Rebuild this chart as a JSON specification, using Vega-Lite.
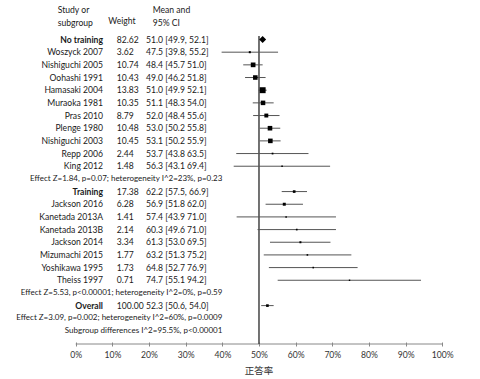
{
  "$schema": "https://vega.github.io/schema/vega-lite/v6.json",
  "width": 480,
  "height": 344,
  "padding": 0,
  "autosize": {"type": "pad"},
  "config": {"view": {"stroke": null}, "font": "Lato", "text": {"font": "Lato", "fontSize": 8.6, "color": "#1a1a1a"}},
  "data": {
    "values": [
      {"row": 0, "label": "No training", "kind": "subgroup", "weight": 82.62, "ci": "51.0 [49.9, 52.1]", "est": 51.0, "lo": 49.9, "hi": 52.1},
      {"row": 1, "label": "Woszyck 2007", "kind": "study", "weight": 3.62, "ci": "47.5 [39.8, 55.2]", "est": 47.5, "lo": 39.8, "hi": 55.2},
      {"row": 2, "label": "Nishiguchi 2005", "kind": "study", "weight": 10.74, "ci": "48.4 [45.7 51.0]", "est": 48.4, "lo": 45.7, "hi": 51.0},
      {"row": 3, "label": "Oohashi 1991", "kind": "study", "weight": 10.43, "ci": "49.0 [46.2 51.8]", "est": 49.0, "lo": 46.2, "hi": 51.8},
      {"row": 4, "label": "Hamasaki 2004", "kind": "study", "weight": 13.83, "ci": "51.0 [49.9 52.1]", "est": 51.0, "lo": 49.9, "hi": 52.1},
      {"row": 5, "label": "Muraoka 1981", "kind": "study", "weight": 10.35, "ci": "51.1 [48.3 54.0]", "est": 51.1, "lo": 48.3, "hi": 54.0},
      {"row": 6, "label": "Pras 2010", "kind": "study", "weight": 8.79, "ci": "52.0 [48.4 55.6]", "est": 52.0, "lo": 48.4, "hi": 55.6},
      {"row": 7, "label": "Plenge 1980", "kind": "study", "weight": 10.48, "ci": "53.0 [50.2 55.8]", "est": 53.0, "lo": 50.2, "hi": 55.8},
      {"row": 8, "label": "Nishiguchi 2003", "kind": "study", "weight": 10.45, "ci": "53.1 [50.2 55.9]", "est": 53.1, "lo": 50.2, "hi": 55.9},
      {"row": 9, "label": "Repp 2006", "kind": "study", "weight": 2.44, "ci": "53.7 [43.8 63.5]", "est": 53.7, "lo": 43.8, "hi": 63.5},
      {"row": 10, "label": "King 2012", "kind": "study", "weight": 1.48, "ci": "56.3 [43.1 69.4]", "est": 56.3, "lo": 43.1, "hi": 69.4},
      {"row": 11, "label": "Effect Z=1.84, p=0.07; heterogeneity I^2=23%, p=0.23", "kind": "note"},
      {"row": 12, "label": "Training", "kind": "pooled", "weight": 17.38, "ci": "62.2 [57.5, 66.9]", "est": 59.6, "lo": 56.2, "hi": 63.1},
      {"row": 13, "label": "Jackson 2016", "kind": "study", "weight": 6.28, "ci": "56.9 [51.8 62.0]", "est": 56.9, "lo": 51.8, "hi": 62.0},
      {"row": 14, "label": "Kanetada 2013A", "kind": "study", "weight": 1.41, "ci": "57.4 [43.9 71.0]", "est": 57.4, "lo": 43.9, "hi": 71.0},
      {"row": 15, "label": "Kanetada 2013B", "kind": "study", "weight": 2.14, "ci": "60.3 [49.6 71.0]", "est": 60.3, "lo": 49.6, "hi": 71.0},
      {"row": 16, "label": "Jackson 2014", "kind": "study", "weight": 3.34, "ci": "61.3 [53.0 69.5]", "est": 61.3, "lo": 53.0, "hi": 69.5},
      {"row": 17, "label": "Mizumachi 2015", "kind": "study", "weight": 1.77, "ci": "63.2 [51.3 75.2]", "est": 63.2, "lo": 51.3, "hi": 75.2},
      {"row": 18, "label": "Yoshikawa 1995", "kind": "study", "weight": 1.73, "ci": "64.8 [52.7 76.9]", "est": 64.8, "lo": 52.7, "hi": 76.9},
      {"row": 19, "label": "Theiss 1997", "kind": "study", "weight": 0.71, "ci": "74.7 [55.1 94.2]", "est": 74.7, "lo": 55.1, "hi": 94.2},
      {"row": 20, "label": "Effect Z=5.53, p<0.00001; heterogeneity I^2=0%, p=0.59", "kind": "note"},
      {"row": 21, "label": "Overall", "kind": "pooled", "weight": 100.0, "ci": "52.3 [50.6, 54.0]", "est": 52.3, "lo": 50.6, "hi": 54.0},
      {"row": 22, "label": "Effect Z=3.09, p=0.002; heterogeneity I^2=60%, p=0.0009", "kind": "note"},
      {"row": 23, "label": "Subgroup differences I^2=95.5%, p<0.00001", "kind": "note"}
    ]
  },
  "layer": [
    {
      "data": {"values": [{}]},
      "mark": {"type": "rule", "color": "#888888", "strokeWidth": 1},
      "encoding": {
        "x": {"datum": 0, "type": "quantitative", "scale": {"domain": [-20.65, 110.29], "nice": false, "zero": false},
          "axis": {"values": [0,5,10,15,20,25,30,35,40,45,50,55,60,65,70,75,80,85,90,95,100],
            "labelExpr": "datum.value % 10 === 0 ? datum.value + '%' : ''",
            "domain": false, "grid": false, "offset": -2, "tickSize": 4, "tickColor": "#888888", "tickWidth": 1,
            "labelFont": "Lato", "labelFontSize": 8.6, "labelColor": "#333333", "labelPadding": 4,
            "title": "正答率", "titleFont": "Noto Sans CJK JP", "titleFontSize": 9.5, "titleFontWeight": "normal",
            "titleColor": "#333333", "titleX": 258.5, "titleY": 28, "titleBaseline": "middle"}},
        "x2": {"datum": 100},
        "y": {"datum": 24.03, "type": "quantitative", "scale": {"domain": [-3.118, 24.03], "reverse": true, "nice": false, "zero": false}, "axis": null}
      }
    },
    {
      "data": {"values": [{}]},
      "mark": {"type": "rule", "color": "#444444", "strokeWidth": 1.5},
      "encoding": {
        "x": {"datum": 50, "type": "quantitative"},
        "y": {"datum": -0.28, "type": "quantitative"},
        "y2": {"datum": 24.03}
      }
    },
    {
      "transform": [{"filter": "datum.kind === 'study' || datum.kind === 'pooled'"}],
      "mark": {"type": "rule", "color": "#555555", "strokeWidth": 1},
      "encoding": {
        "x": {"field": "lo", "type": "quantitative"},
        "x2": {"field": "hi"},
        "y": {"field": "row", "type": "quantitative"}
      }
    },
    {
      "transform": [{"filter": "datum.kind === 'study'"}],
      "mark": {"type": "point", "shape": "square", "filled": true, "color": "#000000", "opacity": 1},
      "encoding": {
        "x": {"field": "est", "type": "quantitative"},
        "y": {"field": "row", "type": "quantitative"},
        "size": {"field": "weight", "type": "quantitative", "scale": {"type": "pow", "exponent": 2, "domain": [0, 14], "range": [2, 36]}, "legend": null}
      }
    },
    {
      "transform": [{"filter": "datum.kind === 'pooled'"}],
      "mark": {"type": "point", "shape": "square", "filled": true, "color": "#000000", "opacity": 1, "size": 7},
      "encoding": {
        "x": {"field": "est", "type": "quantitative"},
        "y": {"field": "row", "type": "quantitative"}
      }
    },
    {
      "transform": [{"filter": "datum.kind === 'subgroup'"}],
      "mark": {"type": "point", "shape": "diamond", "filled": true, "color": "#000000", "opacity": 1, "size": 49},
      "encoding": {
        "x": {"field": "est", "type": "quantitative"},
        "y": {"field": "row", "type": "quantitative"}
      }
    },
    {
      "transform": [{"filter": "datum.kind === 'study'"}],
      "mark": {"type": "text", "align": "right", "baseline": "middle"},
      "encoding": {
        "x": {"datum": 7.45, "type": "quantitative"},
        "y": {"field": "row", "type": "quantitative"},
        "text": {"field": "label"}
      }
    },
    {
      "transform": [{"filter": "datum.kind === 'subgroup' || datum.kind === 'pooled'"}],
      "mark": {"type": "text", "align": "right", "baseline": "middle", "fontWeight": "bold"},
      "encoding": {
        "x": {"datum": 7.45, "type": "quantitative"},
        "y": {"field": "row", "type": "quantitative"},
        "text": {"field": "label"}
      }
    },
    {
      "transform": [{"filter": "datum.kind !== 'note'"}],
      "mark": {"type": "text", "align": "left", "baseline": "middle"},
      "encoding": {
        "x": {"datum": 11.2, "type": "quantitative"},
        "y": {"field": "row", "type": "quantitative"},
        "text": {"field": "weight", "format": ".2f"}
      }
    },
    {
      "transform": [{"filter": "datum.kind !== 'note'"}],
      "mark": {"type": "text", "align": "left", "baseline": "middle"},
      "encoding": {
        "x": {"datum": 19.2, "type": "quantitative"},
        "y": {"field": "row", "type": "quantitative"},
        "text": {"field": "ci"}
      }
    },
    {
      "transform": [{"filter": "datum.kind === 'note'"}],
      "mark": {"type": "text", "align": "right", "baseline": "middle", "fontSize": 8.0},
      "encoding": {
        "x": {"datum": 40.0, "type": "quantitative"},
        "y": {"field": "row", "type": "quantitative"},
        "text": {"field": "label"}
      }
    },
    {
      "data": {"values": [{}]},
      "mark": {"type": "text", "align": "left", "baseline": "middle", "text": "Study or"},
      "encoding": {"x": {"datum": -4.91, "type": "quantitative"}, "y": {"datum": -2.33, "type": "quantitative"}}
    },
    {
      "data": {"values": [{}]},
      "mark": {"type": "text", "align": "left", "baseline": "middle", "text": "subgroup"},
      "encoding": {"x": {"datum": -4.91, "type": "quantitative"}, "y": {"datum": -1.3, "type": "quantitative"}}
    },
    {
      "data": {"values": [{}]},
      "mark": {"type": "text", "align": "left", "baseline": "middle", "text": "Weight"},
      "encoding": {"x": {"datum": 8.9, "type": "quantitative"}, "y": {"datum": -1.46, "type": "quantitative"}}
    },
    {
      "data": {"values": [{}]},
      "mark": {"type": "text", "align": "left", "baseline": "middle", "text": "Mean and"},
      "encoding": {"x": {"datum": 21.0, "type": "quantitative"}, "y": {"datum": -2.33, "type": "quantitative"}}
    },
    {
      "data": {"values": [{}]},
      "mark": {"type": "text", "align": "left", "baseline": "middle", "text": "95% CI"},
      "encoding": {"x": {"datum": 21.0, "type": "quantitative"}, "y": {"datum": -1.3, "type": "quantitative"}}
    }
  ]
}
